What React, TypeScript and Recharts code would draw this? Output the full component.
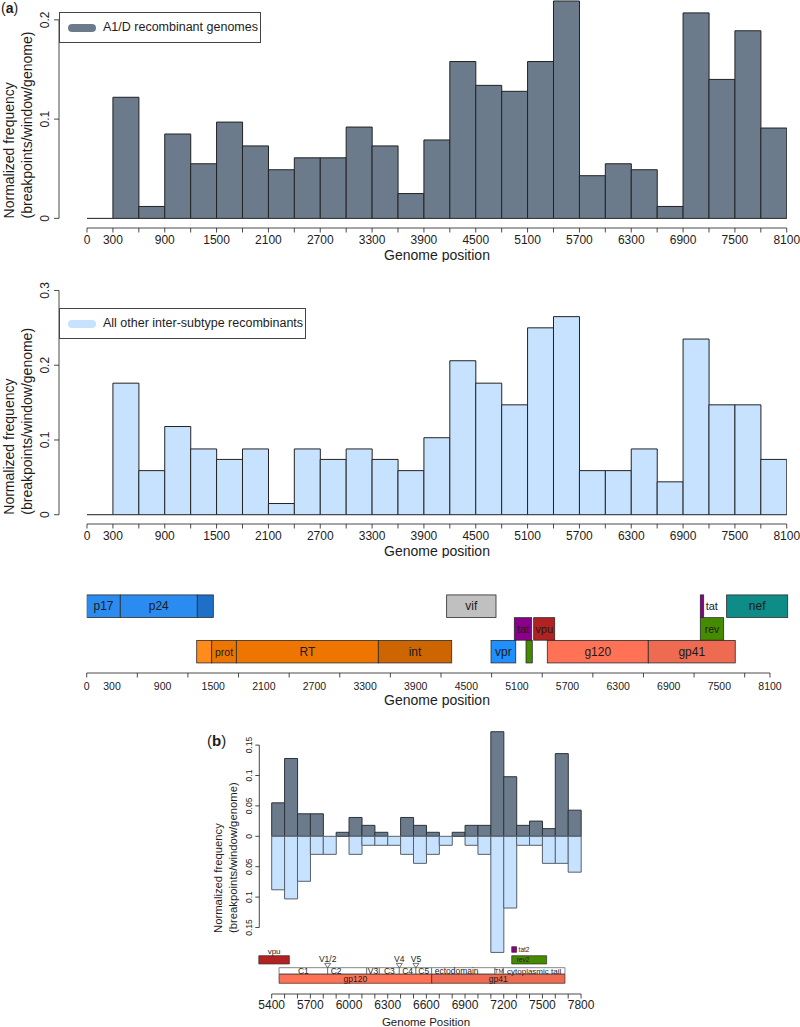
import React from 'react';
import { BarChart, Bar, XAxis, YAxis, Label, ReferenceLine, ReferenceArea, ReferenceDot } from 'recharts';

const FONT = '"Liberation Sans", Arial, Helvetica, sans-serif';
const INK = '#1c1c1c';
const A1D_FILL = '#6C7B8B';
const OTHER_FILL = '#C6E2FF';

// (a) breakpoint histograms, 300 bp windows
const binStarts = [0, 300, 600, 900, 1200, 1500, 1800, 2100, 2400, 2700, 3000, 3300, 3600, 3900, 4200, 4500, 4800, 5100, 5400, 5700, 6000, 6300, 6600, 6900, 7200, 7500, 7800];
const a1dFreq = [0, 0.122, 0.012, 0.085, 0.055, 0.097, 0.073, 0.049, 0.061, 0.061, 0.092, 0.073, 0.025, 0.079, 0.158, 0.134, 0.128, 0.158, 0.219, 0.043, 0.055, 0.049, 0.012, 0.207, 0.14, 0.189, 0.091];
const otherFreq = [0, 0.176, 0.059, 0.118, 0.088, 0.074, 0.088, 0.015, 0.088, 0.074, 0.088, 0.074, 0.059, 0.103, 0.206, 0.176, 0.147, 0.25, 0.265, 0.059, 0.059, 0.088, 0.044, 0.235, 0.147, 0.147, 0.074];
const posTicks = [...binStarts, 8100];
const posLabels = [0, 300, 900, 1500, 2100, 2700, 3300, 3900, 4500, 5100, 5700, 6300, 6900, 7500, 8100];

// HIV-1 genome map (HXB2 coordinates)
const mapGenes = ['p17', 'p24', 'p2p7', 'vif', 'tatA', 'nef', 'tat', 'vpu', 'rev', 'pol', 'prot', 'RT', 'int', 'vpr', 'revA', 'gp120', 'gp41'];
const mapStart = [0, 398, 1311, 4267, 7274, 7586, 5069, 5299, 7274, 1304, 1482, 1774, 3457, 4793, 5208, 5460, 6657];
const mapEnd = [398, 1311, 1501, 4852, 7314, 8310, 5275, 5548, 7551, 1482, 1774, 3457, 4327, 5086, 5282, 6657, 7688];
const mapLane = [1, 1, 1, 1, 1, 1, 2, 2, 2, 3, 3, 3, 3, 3, 3, 3, 3];
const mapLabel = ['p17', 'p24', '', 'vif', 'tat', 'nef', 'tat', 'vpu', 'rev', '', 'prot', 'RT', 'int', 'vpr', '', 'g120', 'gp41'];

// (b) env region, 100 bp windows
const envStarts = [5400, 5500, 5600, 5700, 5800, 5900, 6000, 6100, 6200, 6300, 6400, 6500, 6600, 6700, 6800, 6900, 7000, 7100, 7200, 7300, 7400, 7500, 7600, 7700];
const envA1d = [0.055, 0.128, 0.037, 0.037, 0, 0.0066, 0.031, 0.018, 0.0066, 0, 0.031, 0.018, 0.0066, 0, 0.0066, 0.018, 0.018, 0.172, 0.098, 0.018, 0.025, 0.0126, 0.136, 0.043];
const envOther = [0.088, 0.103, 0.074, 0.0297, 0.0297, 0, 0.0297, 0.0148, 0.0148, 0.0148, 0.0297, 0.0445, 0.0297, 0.0148, 0, 0.0148, 0.0297, 0.191, 0.118, 0.0148, 0.0148, 0.0445, 0.0445, 0.059];
const envTicks = [...envStarts, 7800];
const envLabels = [5400, 5700, 6000, 6300, 6600, 6900, 7200, 7500, 7800];
const envYTicks = [-0.15, -0.1, -0.05, 0, 0.05, 0.1, 0.15];

const envGenes = ['vpu', 'tat2', 'rev2', 'gp120', 'gp41'];
const envGeneStart = [5300, 7262, 7262, 5457, 6641];
const envGeneEnd = [5537, 7300, 7533, 6641, 7675];
const domains = ['C1', 'C2', 'V3', 'C3', 'C4', 'C5', 'ectodomain', 'TM', 'cytoplasmic tail'];
const domainStart = [5457, 5834, 6137, 6235, 6390, 6519, 6641, 7132, 7197];
const domainEnd = [5834, 6137, 6235, 6390, 6519, 6641, 7132, 7197, 7675];
const loops = ['V1/2', 'V4', 'V5'];
const loopPos = [5834, 6390, 6519];

const histRows = binStarts.map((s, i) => ({ mid: s + 150, a1d: a1dFreq[i], other: otherFreq[i] }));
const envRows = envStarts.map((s, i) => ({ mid: s + 50, a1d: envA1d[i], other: -envOther[i] }));
const mapRows = [1, 2, 3].map((lane) => {
  const row: any = { lane };
  mapGenes.forEach((g, i) => {
    row[g] = mapLane[i] === lane ? [mapStart[i], mapEnd[i]] : null;
  });
  return row;
});

const mapStyle: Record<string, { fill: string; size?: number; pos?: 'right' }> = {
  p17: { fill: '#2A8CF0' }, p24: { fill: '#2A8CF0' }, p2p7: { fill: '#1D6FC8' },
  vif: { fill: '#C0C0C0' }, tatA: { fill: '#8B008B', size: 11, pos: 'right' }, nef: { fill: '#0E8C88' },
  tat: { fill: '#8B008B', size: 11 }, vpu: { fill: '#B22222', size: 11 }, rev: { fill: '#458B00', size: 10.5 },
  pol: { fill: '#FF8C1A' }, prot: { fill: '#EE7600', size: 10.5 }, RT: { fill: '#EE7600' }, int: { fill: '#CD6600' },
  vpr: { fill: '#1E90FF' }, revA: { fill: '#458B00' }, gp120: { fill: '#FF7256' }, gp41: { fill: '#EE6A50' },
};

const envStyle: Record<string, { fill: string; pos: string; size: number; offset?: number }> = {
  vpu: { fill: '#B22222', pos: 'top', size: 8, offset: 1.5 },
  tat2: { fill: '#8B008B', pos: 'right', size: 6.5, offset: 2 },
  rev2: { fill: '#458B00', pos: 'insideLeft', size: 6.5, offset: 5 },
  gp120: { fill: '#FF7256', pos: 'center', size: 8.5 },
  gp41: { fill: '#EE6A50', pos: 'center', size: 8.5 },
};
const envLane: Record<string, [number, number]> = {
  vpu: [-0.1964, -0.21], tat2: [-0.1816, -0.1908], rev2: [-0.1964, -0.21],
  gp120: [-0.227, -0.2418], gp41: [-0.227, -0.2418],
};
const domainLane: [number, number] = [-0.2161, -0.2265];
const domainFont: Record<string, number> = { TM: 6, 'cytoplasmic tail': 8 };
const loopY = -0.209;

const posXTick = (labels: number[], majorEvery: number, size: number, dy: number) => (props: any) => {
  const { x, y, payload } = props;
  const v = payload.value;
  const major = v % majorEvery === 0 || v === 8100;
  return (
    <g>
      {major && <line x1={x} y1={y} x2={x} y2={y + 4.5} stroke={INK} strokeWidth={0.8} />}
      {labels.includes(v) && (
        <text x={x} y={y + dy} textAnchor="middle" fontSize={size} fill={INK}>{v}</text>
      )}
    </g>
  );
};

const rotYTick = (size: number, off: number, len: number) => (props: any) => {
  const { x, y, payload } = props;
  return (
    <g>
      <line x1={x - len} y1={y} x2={x} y2={y} stroke={INK} strokeWidth={0.8} />
      <text transform={`translate(${x - off},${y}) rotate(-90)`} textAnchor="middle" fontSize={size} fill={INK}>
        {String(Math.abs(payload.value))}
      </text>
    </g>
  );
};

function YTitle({ x1, x2, y, size }: { x1: number; x2: number; y: number; size: number }) {
  return (
    <g fontSize={size} fill={INK}>
      <text transform={`translate(${x1},${y}) rotate(-90)`}>Normalized frequency</text>
      <text transform={`translate(${x2},${y}) rotate(-90)`}>(breakpoints/window/genome)</text>
    </g>
  );
}

type HistProps = {
  top: number; height: number; dataKey: 'a1d' | 'other'; fill: string;
  yDomain: [number, number]; yTicks: number[]; zeroY: number;
  legend: string; legendTop: number; legendWidth: number; legendHeight: number;
};

function Histogram(p: HistProps) {
  const titleY = p.height - 2;
  return (
    <div style={{ position: 'absolute', left: 0, top: p.top }}>
      <BarChart width={800} height={p.height} data={histRows} margin={{ top: 0, right: 13, bottom: 0, left: 0 }} barCategoryGap={0}>
        <XAxis type="number" dataKey="mid" domain={[-324, 8103]} allowDataOverflow ticks={posTicks} interval={0}
          tick={posXTick(posLabels, 300, 12, 15.5)} tickSize={0} tickMargin={0} tickLine={false} axisLine={false} height={34}>
          <Label content={() => <text x={437} y={titleY} textAnchor="middle" fontSize={14} fill={INK}>Genome position</text>} />
        </XAxis>
        <YAxis type="number" domain={p.yDomain} allowDataOverflow ticks={p.yTicks} interval={0}
          tick={rotYTick(12, 10, 5)} tickSize={0} tickMargin={0} tickLine={false} axisLine={false} width={59}>
          <Label content={() => <YTitle x1={14} x2={31.5} y={p.zeroY} size={14} />} />
        </YAxis>
        <Bar dataKey={p.dataKey} fill={p.fill} stroke="#222" strokeWidth={1} isAnimationActive={false} />
        <ReferenceLine segment={[{ x: 0, y: 0 }, { x: 300, y: 0 }]} stroke={INK} strokeWidth={1} ifOverflow="visible" />
        <ReferenceLine segment={[{ x: -324, y: 0 }, { x: -324, y: p.yTicks[p.yTicks.length - 1] }]} stroke={INK} strokeWidth={0.8} ifOverflow="visible" />
        <ReferenceLine segment={[{ x: 0, y: p.yDomain[0] }, { x: 8100, y: p.yDomain[0] }]} stroke={INK} strokeWidth={0.8} ifOverflow="visible" />
      </BarChart>
      <div style={{ position: 'absolute', left: 59, top: p.legendTop, width: p.legendWidth, height: p.legendHeight, border: '1px solid #444', boxSizing: 'border-box', background: '#fff' }}>
        <div style={{ position: 'absolute', left: 8, top: (p.legendHeight - 2) / 2 - 4, width: 28, height: 8, borderRadius: 4, background: p.fill }} />
        <div style={{ position: 'absolute', left: 43, top: 0, lineHeight: `${p.legendHeight - 2}px`, fontSize: 12.5, color: INK, whiteSpace: 'nowrap' }}>{p.legend}</div>
      </div>
    </div>
  );
}

const geneShape = (key: string, label: string) => (props: any) => {
  const { x, y, width, height, payload } = props;
  if (!payload || payload[key] == null || !(width > 0)) return <g />;
  const st = mapStyle[key];
  const size = st.size || 12;
  return (
    <g>
      <rect x={x} y={y} width={width} height={height} fill={st.fill} stroke="#2a2a2a" strokeWidth={0.8} />
      {label && st.pos === 'right' && (
        <text x={x + width + 2} y={y + height / 2 + 4} fontSize={size} fill={INK}>{label}</text>
      )}
      {label && st.pos !== 'right' && (
        <text x={x + width / 2} y={y + height / 2 + 4} textAnchor="middle" fontSize={size} fill={INK}>{label}</text>
      )}
    </g>
  );
};

function GenomeMap() {
  const axisY = 3.932;
  return (
    <div style={{ position: 'absolute', left: 0, top: 580 }}>
      <BarChart layout="vertical" width={800} height={128} data={mapRows} margin={{ top: 0, right: 4.7, bottom: 0, left: 86.7 }}
        barCategoryGap={0} barGap={-22.5}>
        <XAxis type="number" domain={[0, 8400]} allowDataOverflow ticks={posTicks} interval={0}
          tick={posXTick(posLabels, 600, 10.5, 17)} tickSize={0} tickMargin={0} tickLine={false} axisLine={false} height={35}>
          <Label content={() => <text x={437} y={125} textAnchor="middle" fontSize={14} fill={INK}>Genome position</text>} />
        </XAxis>
        <YAxis type="number" dataKey="lane" domain={[-0.156, axisY]} allowDataOverflow hide />
        {mapGenes.map((g, i) => (
          <Bar key={g} dataKey={g} barSize={22.5} fill={mapStyle[g].fill} shape={geneShape(g, mapLabel[i])} isAnimationActive={false} />
        ))}
        <ReferenceLine segment={[{ x: 0, y: axisY }, { x: 8100, y: axisY }]} stroke={INK} strokeWidth={0.8} ifOverflow="visible" />
      </BarChart>
    </div>
  );
}

const loopShape = (name: string) => (props: any) => {
  const { cx, cy } = props;
  return (
    <g>
      <path d={`M${cx - 3},${cy} L${cx + 3},${cy} L${cx},${cy + 4.5} Z`} fill="#fff" stroke="#333" strokeWidth={0.7} />
      <text x={cx} y={cy - 1.5} textAnchor="middle" fontSize={8.5} fill={INK}>{name}</text>
    </g>
  );
};

function EnvPanel() {
  const xMin = 5303.8;
  const yMin = -0.2594;
  return (
    <div style={{ position: 'absolute', left: 0, top: 720 }}>
      <BarChart width={800} height={307} data={envRows} margin={{ top: 0, right: 206.6, bottom: 0, left: 199.3 }}
        stackOffset="sign" barCategoryGap={0}>
        <XAxis type="number" dataKey="mid" domain={[xMin, 7895.7]} allowDataOverflow ticks={envTicks} interval={0}
          tick={posXTick(envLabels, 100, 12, 15)} tickSize={0} tickMargin={0} tickLine={false} axisLine={false} height={33}>
          <Label content={() => <text x={426} y={306} textAnchor="middle" fontSize={11.5} fill={INK}>Genome Position</text>} />
        </XAxis>
        <YAxis type="number" domain={[yMin, 0.1913]} allowDataOverflow ticks={envYTicks} interval={0}
          tick={rotYTick(8.5, 7, 4)} tickSize={0} tickMargin={0} tickLine={false} axisLine={false} width={60}>
          <Label content={() => <YTitle x1={222} x2={237} y={213} size={11.3} />} />
        </YAxis>
        <Bar dataKey="a1d" stackId="env" fill={A1D_FILL} stroke="#2b333b" strokeWidth={1} isAnimationActive={false} />
        <Bar dataKey="other" stackId="env" fill={OTHER_FILL} stroke="#55606b" strokeWidth={1} isAnimationActive={false} />
        <ReferenceLine segment={[{ x: xMin, y: -0.15 }, { x: xMin, y: 0.15 }]} stroke={INK} strokeWidth={0.8} ifOverflow="visible" />
        <ReferenceLine segment={[{ x: 5400, y: yMin }, { x: 7800, y: yMin }]} stroke={INK} strokeWidth={0.8} ifOverflow="visible" />
        {domains.map((d, i) => (
          <ReferenceArea key={d} x1={domainStart[i]} x2={domainEnd[i]} y1={domainLane[0]} y2={domainLane[1]}
            fill="#fff" fillOpacity={1} stroke="#555" strokeWidth={0.7} ifOverflow="visible"
            label={{ value: d, position: d === 'C2' || d === 'ectodomain' ? 'insideLeft' : 'center', offset: 3, fontSize: domainFont[d] ?? 8.5, fill: INK }} />
        ))}
        {envGenes.map((g, i) => (
          <ReferenceArea key={g} x1={envGeneStart[i]} x2={envGeneEnd[i]} y1={envLane[g][0]} y2={envLane[g][1]}
            fill={envStyle[g].fill} fillOpacity={1} stroke="#3a2a2a" strokeWidth={0.7} ifOverflow="visible"
            label={{ value: g, position: envStyle[g].pos, offset: envStyle[g].offset ?? 5, fontSize: envStyle[g].size, fill: INK }} />
        ))}
        {loops.map((l, i) => (
          <ReferenceDot key={l} x={loopPos[i]} y={loopY} r={3} ifOverflow="visible" shape={loopShape(l)} />
        ))}
      </BarChart>
    </div>
  );
}

export default function App() {
  return (
    <div style={{ position: 'absolute', left: 0, top: 0, width: 800, height: 1027, background: '#fff', fontFamily: FONT, overflow: 'hidden' }}>
      <Histogram top={0} height={262} dataKey="a1d" fill={A1D_FILL} yDomain={[-0.0097, 0.22]} yTicks={[0, 0.1, 0.2]}
        zeroY={218.4} legend="A1/D recombinant genomes" legendTop={12} legendWidth={202} legendHeight={31} />
      <Histogram top={280} height={278} dataKey="other" fill={OTHER_FILL} yDomain={[-0.0124, 0.314]} yTicks={[0, 0.1, 0.2, 0.3]}
        zeroY={234.7} legend="All other inter-subtype recombinants" legendTop={28} legendWidth={247} legendHeight={31} />
      <GenomeMap />
      <EnvPanel />
      <div style={{ position: 'absolute', left: 1, top: 0, fontSize: 14, lineHeight: '16px', color: INK }}>(<b>a</b>)</div>
      <div style={{ position: 'absolute', left: 207, top: 732, fontSize: 15, lineHeight: '17px', color: INK }}>(<b>b</b>)</div>
    </div>
  );
}
